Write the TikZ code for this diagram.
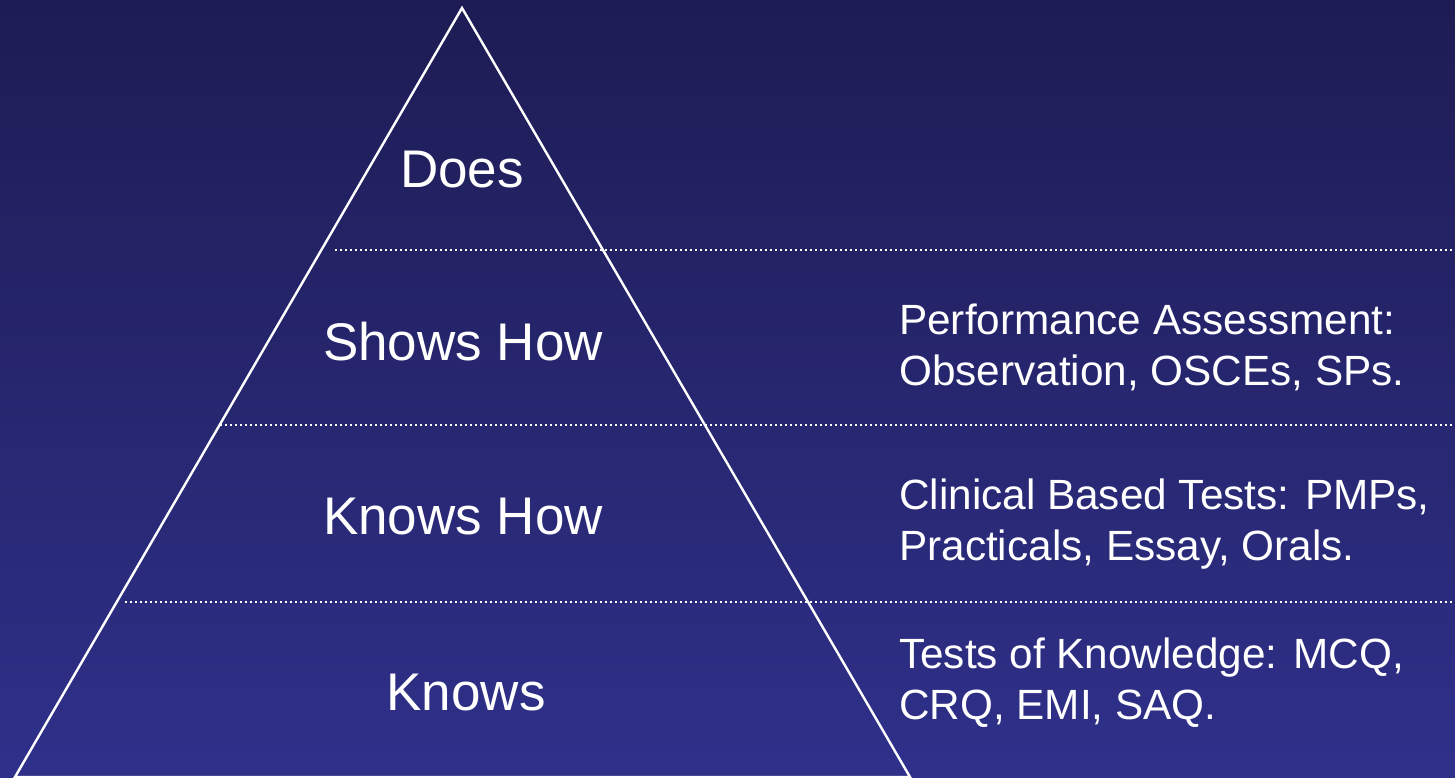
\documentclass[tikz,border=0pt]{standalone}
\usepackage{fontspec}
\setmainfont{Liberation Sans}
\definecolor{bgtop}{RGB}{30,28,84}
\definecolor{bgbot}{RGB}{47,48,138}
\tikzset{
  level/.style={text=white, inner sep=0pt, font=\fontsize{53}{64}\selectfont},
  method/.style={text=white, inner sep=0pt, anchor=west, align=left, font=\fontsize{42.3}{51}\selectfont},
  tier/.style={white, line width=2.2pt, dash pattern=on 2.2pt off 2.8pt}
}
\begin{document}
\begin{tikzpicture}[x=1pt, y=-1pt]
% background, fixes the page size
\shade[top color=bgtop, bottom color=bgbot] (0,0) rectangle (1455,777);
\useasboundingbox (0,0) rectangle (1455,777);
\clip (0,0) rectangle (1455,777);
% pyramid
\coordinate (apex) at (462,8);
\coordinate (baseL) at (15,777);
\coordinate (baseR) at (910,777);
\draw[white, line width=2.4pt, line join=miter] (apex)--(baseL)--(baseR)--cycle;
% dotted tier lines
\foreach \y/\x in {250/335, 425/220, 602/125}
  \draw[tier] (\x,\y) coordinate (t\y) -- (1455,\y) coordinate (e\y);
% levels
\node[level] (does) at (462,170) {Does};
\node[level] (shows) at (463,342) {Shows How};
\node[level] (knowshow) at (463,517) {Knows How};
\node[level] (knows) at (466,693) {Knows};
% assessment methods
\node[method] (perf) at (899,347) {Performance Assessment:\\Observation, OSCEs, SPs.};
\node[method] (clin) at (899,524) {Clinical Based Tests: PMPs,\\Practicals, Essay, Orals.};
\node[method] (tok) at (899,683) {Tests of Knowledge: MCQ,\\CRQ, EMI, SAQ.};
\end{tikzpicture}
\end{document}
